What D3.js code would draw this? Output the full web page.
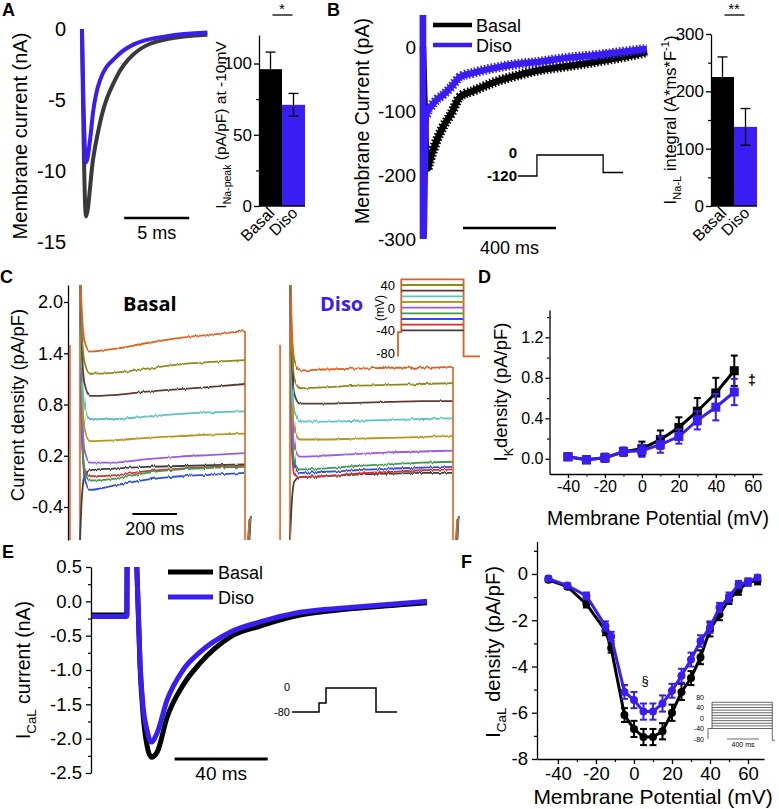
<!DOCTYPE html>
<html><head><meta charset="utf-8">
<script src="https://cdn.jsdelivr.net/npm/d3@7"></script>
<style>
body{margin:0;background:#fff;}
</style></head><body>
<svg id="fig" width="779" height="809"></svg>
<script>
var FONT = '"Liberation Sans", Arial, sans-serif';
var BLUE = '#3a1df2';

// ---- panel A: Na peak traces (time in ms, current in nA)
var aTimeDiso = [0.15, 0.46, 0.8, 1.0, 1.54, 2.8, 4.1, 6.7, 9.8];
var aDiso = [0, -9.4, -7.6, -5.9, -3.6, -1.95, -1.1, -0.5, -0.25];
var aTimeBasal = [0.15, 0.46, 1.0, 1.54, 2.8, 4.1, 6.7, 9.8];
var aBasal = [0, -13.2, -9.2, -6.6, -3.4, -1.8, -0.7, -0.4];
var aTicks = [0, -5, -10, -15];
var aScaleBar = [3.4, 8.4];
var groups = ['Basal', 'Diso'];
var aBarMean = [96, 71];
var aBarErr = [12, 8];

// ---- panel B: late Na current (ms, pA)
var bTimeBasal = [0, 20, 30, 45, 60, 86, 120, 159, 220, 331, 400, 503, 620, 761, 870, 963];
var bBasal = [0, -190, -177, -160, -145, -125, -105, -78, -68, -52, -45, -36, -30, -22, -15, -8];
var bTimeDiso = [0, 1, 13, 20, 30, 45, 60, 86, 120, 159, 220, 331, 400, 503, 620, 761, 870, 963];
var bDiso = [60, -310, -108, -100, -95, -88, -82, -75, -63, -47, -40, -31, -27, -23, -17, -12, -7, -3];
var bTicks = [0, -100, -200, -300];
var bScaleBar = [172, 572];
var bProtoT = [0, 100, 100, 450, 450, 555];
var bProtoV = [-120, -120, 0, 0, -100, -100];
var bBarMean = [225, 138];
var bBarErr = [35, 32];

// ---- panel C: IK traces (ms, pA/pF), one row per step
var cColors = ['#e0611f', '#8c8a1f', '#5b3a36', '#5cc3c3', '#b8951c', '#9a5be0', '#3f9a4b', '#2f4fe6', '#d6302f', '#3f3f3f'];
var cSteps = [50, 40, 30, 20, 10, 0, -10, -20, -30, -40];
var cTime = [0, 8, 20, 45, 150, 300, 450, 600, 740];
var cBasal = [
  [2.4, 1.9, 1.55, 1.42, 1.45, 1.52, 1.58, 1.62, 1.66],
  [2.4, 1.7, 1.3, 1.16, 1.17, 1.22, 1.27, 1.30, 1.32],
  [2.4, 1.5, 1.05, 0.90, 0.91, 0.95, 0.98, 1.01, 1.04],
  [2.4, 1.3, 0.78, 0.63, 0.63, 0.66, 0.69, 0.71, 0.72],
  [2.4, 1.1, 0.52, 0.37, 0.38, 0.41, 0.43, 0.45, 0.46],
  [2.4, 0.9, 0.27, 0.12, 0.12, 0.16, 0.19, 0.21, 0.23],
  [2.4, 0.7, 0.02, -0.09, -0.07, 0.0, 0.04, 0.06, 0.07],
  [2.4, 0.6, -0.05, -0.2, -0.15, -0.08, -0.04, -0.02, 0.0],
  [2.4, 0.5, 0.05, -0.04, -0.03, 0.02, 0.05, 0.07, 0.08],
  [-0.8, -0.3, -0.05, 0.03, 0.05, 0.07, 0.08, 0.09, 0.1]
];
var cDiso = [
  [2.4, 1.7, 1.32, 1.2, 1.21, 1.22, 1.23, 1.23, 1.24],
  [2.4, 1.5, 1.1, 0.99, 1.0, 1.02, 1.03, 1.04, 1.05],
  [2.4, 1.3, 0.92, 0.81, 0.81, 0.82, 0.83, 0.84, 0.84],
  [2.4, 1.1, 0.72, 0.6, 0.6, 0.61, 0.62, 0.63, 0.64],
  [2.4, 0.95, 0.5, 0.39, 0.39, 0.4, 0.41, 0.42, 0.43],
  [2.4, 0.8, 0.3, 0.19, 0.2, 0.22, 0.24, 0.25, 0.26],
  [2.4, 0.6, 0.12, 0.04, 0.05, 0.08, 0.1, 0.12, 0.13],
  [2.4, 0.5, 0.08, 0.0, 0.01, 0.03, 0.05, 0.06, 0.07],
  [2.4, 0.3, -0.02, -0.05, -0.04, -0.01, 0.01, 0.03, 0.04],
  [-0.8, -0.35, -0.1, -0.05, -0.04, -0.02, -0.01, 0.0, 0.0]
];
var cTicks = [2.0, 1.4, 0.8, 0.2, -0.4];
var cScaleBar = [235, 435];
var cProtoT = [0, 4, 80, 100];

// ---- panel D: IK density vs voltage
var dVolt = [-40, -30, -20, -10, 0, 10, 20, 30, 40, 50];
var dBasal = [0.02, -0.01, 0.01, 0.07, 0.1, 0.19, 0.31, 0.47, 0.65, 0.87];
var dBasalErr = [0.03, 0.03, 0.04, 0.04, 0.07, 0.09, 0.1, 0.13, 0.15, 0.15];
var dDiso = [0.02, -0.01, 0.01, 0.07, 0.08, 0.14, 0.22, 0.38, 0.51, 0.66];
var dDisoErr = [0.03, 0.03, 0.04, 0.04, 0.06, 0.08, 0.07, 0.09, 0.13, 0.13];

// ---- panel E: ICaL traces (ms, nA)
var eTime = [0, 15.4, 15.6, 19.4, 19.7, 21.1, 22.4, 24.1, 25.9, 28.4, 32.7, 39.6, 46.9, 59.8, 72.7, 89.9, 111.4, 132.9, 144.5];
var eBasal = [-0.2, -0.2, 0.9, 0.9, 0.5, -0.95, -1.65, -2.1, -2.27, -2.2, -1.69, -1.22, -0.9, -0.52, -0.36, -0.2, -0.11, -0.05, -0.02];
var eDiso = [-0.22, -0.22, 0.9, 0.9, 0.5, -0.9, -1.54, -1.88, -2.05, -1.92, -1.44, -1.0, -0.74, -0.45, -0.3, -0.16, -0.09, -0.03, 0.0];
var eTicks = [0.5, 0.0, -0.5, -1.0, -1.5, -2.0, -2.5];
var eScaleBar = [36, 76];
var eProtoT = [0, 27, 27, 34, 34, 84, 84, 105];
var eProtoV = [-80, -80, -50, -50, 0, 0, -80, -80];

// ---- panel F: ICaL density vs voltage
var fVolt = [-45, -35, -25, -15, -12, -5, 0, 5, 10, 15, 20, 25, 30, 35, 40, 45, 50, 55, 60, 65];
var fBasal = [-0.25, -0.55, -1.3, -2.45, -3.2, -6.1, -6.7, -7.05, -7.05, -6.8, -6.0, -5.1, -4.5, -3.6, -2.4, -1.75, -1.1, -0.7, -0.35, -0.3];
var fBasalErr = [0.1, 0.1, 0.15, 0.2, 0.2, 0.3, 0.35, 0.35, 0.35, 0.35, 0.35, 0.35, 0.3, 0.3, 0.3, 0.25, 0.2, 0.2, 0.15, 0.15];
var fDiso = [-0.2, -0.5, -0.95, -2.25, -2.7, -5.1, -5.45, -5.95, -5.95, -5.6, -5.05, -4.4, -3.7, -2.9, -2.3, -1.45, -1.0, -0.45, -0.35, -0.15];
var fDisoErr = [0.1, 0.1, 0.15, 0.2, 0.2, 0.3, 0.35, 0.35, 0.35, 0.35, 0.3, 0.3, 0.3, 0.25, 0.25, 0.2, 0.2, 0.15, 0.15, 0.1];
var fProtoLevels = [60, 50, 40, 30, 20, 10, 0, -10, -20, -30, -40];

var svg = d3.select('#fig').attr('font-family', FONT);
var defs = svg.append('defs');

function hy(v, dec) { return (v < 0 ? '-' : '') + Math.abs(v).toFixed(dec); }

function axisLeft(x, scale, values, fmt, fs, size, pad, minor) {
  var g = svg.append('g').attr('transform', 'translate(' + x + ',0)')
    .call(d3.axisLeft(scale).tickValues(values).tickFormat(fmt).tickSize(size).tickSizeOuter(0).tickPadding(pad));
  g.attr('font-size', fs).attr('font-family', FONT);
  g.selectAll('path,line').attr('stroke-width', 1.3);
  if (minor) {
    svg.append('g').attr('transform', 'translate(' + x + ',0)')
      .call(d3.axisLeft(scale).tickValues(minor).tickFormat('').tickSize(size * 0.6).tickSizeOuter(0))
      .call(function (s) { s.select('.domain').remove(); })
      .selectAll('line').attr('stroke-width', 1.2);
  }
  return g;
}

function axisBottom(y, scale, values, fmt, fs, size, pad, minor) {
  var g = svg.append('g').attr('transform', 'translate(0,' + y + ')')
    .call(d3.axisBottom(scale).tickValues(values).tickFormat(fmt).tickSize(size).tickSizeOuter(0).tickPadding(pad));
  g.attr('font-size', fs).attr('font-family', FONT);
  g.selectAll('path,line').attr('stroke-width', 1.3);
  if (minor) {
    svg.append('g').attr('transform', 'translate(0,' + y + ')')
      .call(d3.axisBottom(scale).tickValues(minor).tickFormat('').tickSize(size * 0.6).tickSizeOuter(0))
      .call(function (s) { s.select('.domain').remove(); })
      .selectAll('line').attr('stroke-width', 1.2);
  }
  return g;
}

function label(x, y, parts, fs, rot, anchor, weight) {
  var t = svg.append('text')
    .attr('transform', 'translate(' + x + ',' + y + ') rotate(' + (rot || 0) + ')')
    .attr('text-anchor', anchor || 'middle').attr('font-size', fs)
    .attr('font-weight', weight || 'normal');
  var shift = 0;
  parts.forEach(function (p) {
    var s = typeof p === 'string' ? [p, null] : p;
    var target = s[1] === 'sub' ? fs * 0.3 : s[1] === 'sup' ? -fs * 0.4 : 0;
    t.append('tspan').text(s[0]).attr('dy', target - shift).attr('font-size', s[1] ? fs * 0.68 : fs);
    shift = target;
  });
  return t;
}

function clip(id, x, y, w, h) {
  defs.append('clipPath').attr('id', id).append('rect')
    .attr('x', x).attr('y', y).attr('width', w).attr('height', h);
  return 'url(#' + id + ')';
}

function zip(a, b) { return a.map(function (v, i) { return [v, b[i]]; }); }

function barChart(x0, x1, y, means, errs, major, minor, stars) {
  var xb = d3.scaleBand().domain(groups).range([x0, x1]);
  axisLeft(x0, y, major, function (d) { return d; }, 17, 5, 2, minor);
  svg.append('g').selectAll('rect').data(means).join('rect')
    .attr('x', function (d, i) { return xb(groups[i]); })
    .attr('y', function (d) { return y(d); })
    .attr('width', xb.bandwidth())
    .attr('height', function (d) { return y(0) - y(d); })
    .attr('fill', function (d, i) { return i ? BLUE : '#000'; });
  svg.append('line').attr('x1', x0).attr('x2', x1).attr('y1', y(0)).attr('y2', y(0))
    .attr('stroke', '#000').attr('stroke-width', 1.3);
  var eb = svg.append('g').attr('stroke', '#000').attr('stroke-width', 1.3);
  means.forEach(function (m, i) {
    var cx = xb(groups[i]) + xb.bandwidth() / 2;
    var lo = i ? m - errs[i] : m;
    eb.append('line').attr('x1', cx).attr('x2', cx).attr('y1', y(lo)).attr('y2', y(m + errs[i]));
    eb.append('line').attr('x1', cx - 5).attr('x2', cx + 5).attr('y1', y(m + errs[i])).attr('y2', y(m + errs[i]));
    if (i) eb.append('line').attr('x1', cx - 5).attr('x2', cx + 5).attr('y1', y(lo)).attr('y2', y(lo));
    svg.append('g').attr('transform', 'translate(' + (cx + 5) + ',' + (y(0) + 8) + ') rotate(-45)')
      .append('text').attr('text-anchor', 'end').attr('font-size', 16).text(groups[i]);
  });
  var c0 = xb('Basal') + xb.bandwidth() / 2, c1 = xb('Diso') + xb.bandwidth() / 2;
  svg.append('line').attr('x1', c0 + 2).attr('x2', c1 - 1).attr('y1', 15).attr('y2', 15)
    .attr('stroke', '#000').attr('stroke-width', 1.3);
  svg.append('text').attr('x', (c0 + c1) / 2).attr('y', 14).attr('text-anchor', 'middle')
    .attr('font-size', 15).text(stars);
  return xb;
}

// ================= A =================
svg.append('text').attr('x', 2).attr('y', 16).attr('font-size', 18).attr('font-weight', 'bold').text('A');
var xA = d3.scaleLinear().domain([0, 10]).range([80, 210]);
var yA = d3.scaleLinear().domain([0, -15]).range([29, 242]);
axisLeft(80, yA, aTicks, function (d) { return hy(d, 0); }, 20, 0, 14)
  .call(function (g) { g.select('.domain').remove(); g.selectAll('line').remove(); });
label(27, 136, ['Membrane current (nA)'], 20, -90);
var lineA = d3.line().x(function (d) { return xA(d[0]); }).y(function (d) { return yA(d[1]); }).curve(d3.curveMonotoneX);
svg.append('path').attr('d', lineA(zip(aTimeBasal, aBasal))).attr('fill', 'none').attr('stroke', '#3a3a3a').attr('stroke-width', 4);
svg.append('path').attr('d', lineA(zip(aTimeDiso, aDiso))).attr('fill', 'none').attr('stroke', BLUE).attr('stroke-width', 4);
svg.append('line').attr('x1', xA(aScaleBar[0])).attr('x2', xA(aScaleBar[1])).attr('y1', 218).attr('y2', 218)
  .attr('stroke', '#000').attr('stroke-width', 2.5);
svg.append('text').attr('x', xA((aScaleBar[0] + aScaleBar[1]) / 2)).attr('y', 239).attr('text-anchor', 'middle')
  .attr('font-size', 18).text('5 ms');

var yAbar = d3.scaleLinear().domain([0, 120]).range([206, 35]);
barChart(259, 305, yAbar, aBarMean, aBarErr, [0, 50, 100], [25, 75], '*');
label(226, 125, ['I', ['Na-peak', 'sub'], ' (pA/pF) at -10mV'], 15.5, -90);

// ================= B =================
svg.append('text').attr('x', 327).attr('y', 16).attr('font-size', 18).attr('font-weight', 'bold').text('B');
var xB = d3.scaleLinear().domain([0, 400]).range([423, 516]);
var yB = d3.scaleLinear().domain([50, -300]).range([15, 239]);
axisLeft(423, yB, bTicks, function (d) { return hy(d, 0); }, 19, 0, 7)
  .call(function (g) { g.select('.domain').remove(); g.selectAll('line').remove(); });
label(369, 121, ['Membrane Current (pA)'], 19.5, -90);
var cpB = clip('cpB', 400, 15, 260, 224);
var lineB = d3.line().x(function (d) { return xB(d[0]); }).y(function (d) { return yB(d[1]); }).curve(d3.curveMonotoneX);
var gB = svg.append('g').attr('clip-path', cpB).attr('fill', 'none');
[[bTimeBasal, bBasal, '#000', 1], [bTimeDiso, bDiso, BLUE, 2]].forEach(function (s) {
  var pts = zip(s[0], s[1]);
  gB.append('path').attr('d', lineB(pts)).attr('stroke', s[2]).attr('stroke-width', 6.5);
  gB.append('path').attr('d', lineB(pts.slice(s[3]))).attr('stroke', s[2]).attr('stroke-width', 10)
    .attr('stroke-dasharray', '1.6 1.8');
});
gB.append('line').attr('x1', xB(0) - 1.5).attr('x2', xB(0) - 1.5).attr('y1', 15).attr('y2', 239)
  .attr('stroke', BLUE).attr('stroke-width', 3.5);
// legend
[['Basal', '#000', 25], ['Diso', BLUE, 45]].forEach(function (l) {
  svg.append('line').attr('x1', 433).attr('x2', 472).attr('y1', l[2]).attr('y2', l[2]).attr('stroke', l[1]).attr('stroke-width', 4.5);
  svg.append('text').attr('x', 476).attr('y', l[2] + 6.5).attr('font-size', 18).text(l[0]);
});
svg.append('line').attr('x1', xB(bScaleBar[0])).attr('x2', xB(bScaleBar[1])).attr('y1', 228).attr('y2', 228)
  .attr('stroke', '#000').attr('stroke-width', 2.5);
svg.append('text').attr('x', xB((bScaleBar[0] + bScaleBar[1]) / 2)).attr('y', 254).attr('text-anchor', 'middle')
  .attr('font-size', 18).text('400 ms');
// protocol
var xBP = d3.scaleLinear().domain([0, 555]).range([518, 623]);
var yBP = d3.scaleLinear().domain([0, -120]).range([155, 176]);
svg.append('path').attr('d', d3.line().x(function (d) { return xBP(d[0]); }).y(function (d) { return yBP(d[1]); })(zip(bProtoT, bProtoV)))
  .attr('fill', 'none').attr('stroke', '#000').attr('stroke-width', 1.3);
svg.append('text').attr('x', 517).attr('y', 158).attr('text-anchor', 'end').attr('font-size', 15).attr('font-weight', 'bold').text('0');
svg.append('text').attr('x', 517).attr('y', 181).attr('text-anchor', 'end').attr('font-size', 15).attr('font-weight', 'bold').text('-120');

var yBbar = d3.scaleLinear().domain([0, 300]).range([206, 34]);
barChart(711, 757, yBbar, bBarMean, bBarErr, [0, 100, 200, 300], [50, 150, 250], '**');
label(676, 120, ['I', ['Na-L', 'sub'], ' integral (A*ms*F', ['-1', 'sup'], ')'], 16.5, -90);

// ================= C =================
svg.append('text').attr('x', 0).attr('y', 283).attr('font-size', 18).attr('font-weight', 'bold').text('C');
var yC = d3.scaleLinear().domain([2.0, -0.4]).range([302, 507]);
var yCfull = yC.copy().domain([yC.invert(285), yC.invert(540)]).range([285, 540]);
axisLeft(68, yCfull, cTicks, function (d) { return hy(d, 1); }, 18, 4, 1);
label(24, 405, ['Current density (pA/pF)'], 18.5, -90);
var cpC = clip('cpC', 69, 285, 420, 255);
var gC = svg.append('g').attr('clip-path', cpC).attr('fill', 'none');
var noise = defs.append('filter').attr('id', 'jit').attr('x', '-5%').attr('y', '-20%').attr('width', '110%').attr('height', '140%');
noise.append('feTurbulence').attr('type', 'fractalNoise').attr('baseFrequency', '0.6 0.02').attr('numOctaves', 1).attr('seed', 3);
noise.append('feDisplacementMap').attr('in', 'SourceGraphic').attr('scale', 3).attr('xChannelSelector', 'R').attr('yChannelSelector', 'G');

function tracesC(x0, x1, rows, title, titleColor, titleX) {
  var xc = d3.scaleLinear().domain([0, 740]).range([x0, x1]);
  var ln = d3.line().x(function (d) { return xc(d[0]); }).y(function (d) { return yC(d[1]); }).curve(d3.curveMonotoneX);
  // capacitive edges
  gC.append('line').attr('x1', xc(-45)).attr('x2', xc(-45)).attr('y1', yC(1.5)).attr('y2', 540).attr('stroke', cColors[0]).attr('stroke-width', 1.6);
  gC.append('line').attr('x1', x0).attr('x2', x0).attr('y1', 540).attr('y2', 285).attr('stroke', cColors[0]).attr('stroke-width', 1.6);
  rows.slice().reverse().forEach(function (r, k) {
    var i = rows.length - 1 - k;
    gC.append('path').attr('d', ln(zip(cTime, r))).attr('stroke', cColors[i]).attr('stroke-width', 1.8).attr('filter', 'url(#jit)');
    gC.append('line').attr('x1', xc(752 + i)).attr('x2', xc(758 + i)).attr('y1', 540).attr('y2', yC(-0.55 + i * 0.005))
      .attr('stroke', cColors[i]).attr('stroke-width', 1.2);
  });
  gC.append('line').attr('x1', x1).attr('x2', x1).attr('y1', yC(rows[0][rows[0].length - 1])).attr('y2', 540)
    .attr('stroke', cColors[0]).attr('stroke-width', 1.6);
  svg.append('text').attr('x', titleX).attr('y', 311).attr('font-family', '"Open Sans", sans-serif').attr('font-weight', 'bold')
    .attr('font-size', 20).attr('fill', titleColor).text(title);
  return xc;
}
var xCb = tracesC(80, 245, cBasal, 'Basal', '#000', 123);
tracesC(290, 453, cDiso, 'Diso', BLUE, 320);
svg.append('line').attr('x1', xCb(cScaleBar[0])).attr('x2', xCb(cScaleBar[1])).attr('y1', 514).attr('y2', 514)
  .attr('stroke', '#000').attr('stroke-width', 1.8);
svg.append('text').attr('x', xCb((cScaleBar[0] + cScaleBar[1]) / 2)).attr('y', 535).attr('text-anchor', 'middle')
  .attr('font-size', 18).text('200 ms');
// step protocol inset
var xCP = d3.scaleLinear().domain([0, 100]).range([398, 480]);
var yCP = d3.scaleLinear().domain([40, -80]).range([285, 353]);
cSteps.forEach(function (v, i) {
  if (i === 0) {
    var pts = [[0, -86], [0, -43], [4, -43], [4, v], [80, v], [80, -86], [100, -86]];
    svg.append('path').attr('d', d3.line().x(function (d) { return xCP(d[0]); }).y(function (d) { return yCP(d[1]); })(pts))
      .attr('fill', 'none').attr('stroke', cColors[0]).attr('stroke-width', 1.8);
  } else {
    svg.append('line').attr('x1', xCP(cProtoT[1])).attr('x2', xCP(cProtoT[2])).attr('y1', yCP(v)).attr('y2', yCP(v))
      .attr('stroke', cColors[i]).attr('stroke-width', 1.8);
  }
});
[40, 0, -40, -80].forEach(function (v) {
  svg.append('text').attr('x', 395).attr('y', yCP(v) + 5).attr('text-anchor', 'end').attr('font-size', 13).text(hy(v, 0));
});
label(384, 308, ['(mV)'], 12, -90);

// ================= D =================
svg.append('text').attr('x', 478).attr('y', 283).attr('font-size', 18).attr('font-weight', 'bold').text('D');
var xD = d3.scaleLinear().domain([-50, 65]).range([549.5, 762]);
var yD = d3.scaleLinear().domain([-0.15, 1.47]).range([474, 310]);
axisLeft(549.5, yD, [0, 0.4, 0.8, 1.2], function (d) { return d.toFixed(1); }, 16, 4, 2, [0.2, 0.6, 1.0, 1.4]);
axisBottom(474, xD, [-40, -20, 0, 20, 40, 60], function (d) { return hy(d, 0); }, 16, 4, 3, [-30, -10, 10, 30, 50]);
label(507, 392, ['I', ['K', 'sub'], 'density (pA/pF)'], 18.5, -90);
label(658, 525, ['Membrane Potential (mV)'], 19.5, 0);

function ivSeries(xs, ys, volts, vals, errs, color, marker, r) {
  var g = svg.append('g');
  g.append('path').attr('d', d3.line().x(function (d) { return xs(d[0]); }).y(function (d) { return ys(d[1]); })(zip(volts, vals)))
    .attr('fill', 'none').attr('stroke', color).attr('stroke-width', 3);
  volts.forEach(function (v, i) {
    var cx = xs(v), lo = ys(vals[i] - errs[i]), hi = ys(vals[i] + errs[i]);
    g.append('line').attr('x1', cx).attr('x2', cx).attr('y1', lo).attr('y2', hi).attr('stroke', color).attr('stroke-width', 2);
    g.append('line').attr('x1', cx - 3.5).attr('x2', cx + 3.5).attr('y1', hi).attr('y2', hi).attr('stroke', color).attr('stroke-width', 2);
    g.append('line').attr('x1', cx - 3.5).attr('x2', cx + 3.5).attr('y1', lo).attr('y2', lo).attr('stroke', color).attr('stroke-width', 2);
    if (marker === 'square') {
      g.append('rect').attr('x', cx - r).attr('y', ys(vals[i]) - r).attr('width', 2 * r).attr('height', 2 * r).attr('fill', color);
    } else {
      g.append('circle').attr('cx', cx).attr('cy', ys(vals[i])).attr('r', r).attr('fill', color);
    }
  });
}
ivSeries(xD, yD, dVolt, dBasal, dBasalErr, '#000', 'square', 4.5);
ivSeries(xD, yD, dVolt, dDiso, dDisoErr, BLUE, 'square', 4.5);
svg.append('text').attr('x', 752).attr('y', 385).attr('text-anchor', 'middle').attr('font-size', 14).attr('font-weight', 'bold').text('\u2021');

// ================= E =================
svg.append('text').attr('x', 2).attr('y', 558).attr('font-size', 18).attr('font-weight', 'bold').text('E');
var xE = d3.scaleLinear().domain([0, 40]).range([91, 184]);
var yE = d3.scaleLinear().domain([0.5, -2.5]).range([567, 773]);
axisLeft(91, yE, eTicks, function (d) { return hy(d, 1); }, 18.5, 5, 4, [0.25, -0.25, -0.75, -1.25, -1.75, -2.25]);
label(30, 670, ['I', ['CaL', 'sub'], ' current (nA)'], 19.5, -90);
var cpE = clip('cpE', 92, 567, 350, 220);
var lineE = d3.line().x(function (d) { return xE(d[0]); }).y(function (d) { return yE(d[1]); }).curve(d3.curveMonotoneX);
var gE = svg.append('g').attr('clip-path', cpE).attr('fill', 'none');
gE.append('path').attr('d', lineE(zip(eTime, eBasal))).attr('stroke', '#000').attr('stroke-width', 5);
gE.append('path').attr('d', lineE(zip(eTime, eDiso))).attr('stroke', BLUE).attr('stroke-width', 5);
[['Basal', '#000', 572], ['Diso', BLUE, 597]].forEach(function (l) {
  svg.append('line').attr('x1', 168).attr('x2', 213).attr('y1', l[2]).attr('y2', l[2]).attr('stroke', l[1]).attr('stroke-width', 5);
  svg.append('text').attr('x', 218).attr('y', l[2] + 6.5).attr('font-size', 18).text(l[0]);
});
svg.append('line').attr('x1', xE(eScaleBar[0])).attr('x2', xE(eScaleBar[1])).attr('y1', 759).attr('y2', 759)
  .attr('stroke', '#000').attr('stroke-width', 3);
svg.append('text').attr('x', xE((eScaleBar[0] + eScaleBar[1]) / 2)).attr('y', 780).attr('text-anchor', 'middle')
  .attr('font-size', 19).text('40 ms');
var xEP = d3.scaleLinear().domain([0, 105]).range([292, 397]);
var yEP = d3.scaleLinear().domain([0, -80]).range([688, 712]);
svg.append('path').attr('d', d3.line().x(function (d) { return xEP(d[0]); }).y(function (d) { return yEP(d[1]); })(zip(eProtoT, eProtoV)))
  .attr('fill', 'none').attr('stroke', '#000').attr('stroke-width', 1.5);
svg.append('text').attr('x', 290).attr('y', 691).attr('text-anchor', 'end').attr('font-size', 11).text('0');
svg.append('text').attr('x', 290).attr('y', 716).attr('text-anchor', 'end').attr('font-size', 11).text('-80');

// ================= F =================
svg.append('text').attr('x', 461).attr('y', 568).attr('font-size', 18).attr('font-weight', 'bold').text('F');
var xF = d3.scaleLinear().domain([-51, 68.4]).range([537, 764]);
var yF = d3.scaleLinear().domain([1.4, -8]).range([541.6, 759]);
axisLeft(537, yF, [0, -2, -4, -6, -8], function (d) { return hy(d, 0); }, 18.5, 5, 4, [1, -1, -3, -5, -7]);
axisBottom(759, xF, [-40, -20, 0, 20, 40, 60], function (d) { return hy(d, 0); }, 18.5, 5, 3, [-30, -10, 10, 30, 50]);
label(500, 652, ['I', ['CaL', 'sub'], ' density (pA/pF)'], 20, -90);
label(653, 804, ['Membrane Potential (mV)'], 21, 0);
ivSeries(xF, yF, fVolt, fBasal, fBasalErr, '#000', 'circle', 4);
ivSeries(xF, yF, fVolt, fDiso, fDisoErr, BLUE, 'circle', 4);
svg.append('text').attr('x', 645).attr('y', 685).attr('text-anchor', 'middle').attr('font-size', 13).text('\u00a7');
// voltage protocol inset
var xFP = d3.scaleLinear().domain([0, 100]).range([708, 775]);
var yFP = d3.scaleLinear().domain([80, -80]).range([697, 739]);
var gFP = svg.append('g').attr('stroke', '#444').attr('stroke-width', 0.8).attr('fill', 'none');
var lineFP = d3.line().x(function (d) { return xFP(d[0]); }).y(function (d) { return yFP(d[1]); });
gFP.append('path').attr('d', lineFP([[0, -80], [0, -40], [6, -40], [6, 60]]));
gFP.append('path').attr('d', lineFP([[96, 60], [96, -85], [100, -85]]));
fProtoLevels.forEach(function (v) {
  gFP.append('line').attr('x1', xFP(6)).attr('x2', xFP(96)).attr('y1', yFP(v)).attr('y2', yFP(v));
});
gFP.append('line').attr('x1', 727).attr('x2', 759).attr('y1', yFP(-80)).attr('y2', yFP(-80));
[80, 40, 0, -40, -80].forEach(function (v) {
  svg.append('text').attr('x', 704).attr('y', yFP(v) + 2.5).attr('text-anchor', 'end').attr('font-size', 7).text(hy(v, 0));
});
svg.append('text').attr('x', 743).attr('y', 747).attr('text-anchor', 'middle').attr('font-size', 7).text('400 ms');
</script></body></html>
